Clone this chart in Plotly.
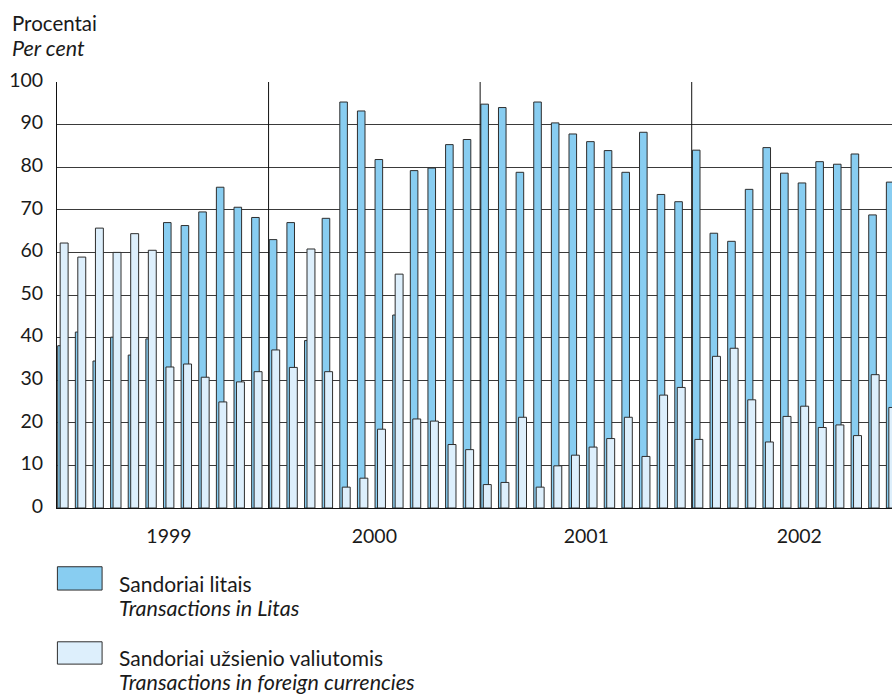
import plotly.graph_objects as go

# Monthly data, Jan 1999 - Dec 2002 (per cent)
months = list(range(48))
litas = [38.1, 41.3, 34.5, 40.1, 35.9, 39.7, 67.0, 66.3, 69.5, 75.3, 70.6, 68.2,
         63.0, 67.0, 39.3, 68.0, 95.3, 93.2, 81.8, 45.3, 79.2, 79.8, 85.3, 86.5,
         94.8, 94.0, 78.8, 95.3, 90.4, 87.8, 86.0, 83.9, 78.8, 88.2, 73.6, 71.9,
         84.0, 64.5, 62.6, 74.8, 84.6, 78.6, 76.3, 81.3, 80.7, 83.1, 68.8, 76.5]
foreign = [62.2, 58.9, 65.7, 60.0, 64.4, 60.5, 33.1, 33.8, 30.7, 24.9, 29.6, 32.0,
           37.1, 33.0, 60.8, 32.0, 4.9, 7.0, 18.5, 54.9, 20.9, 20.4, 14.9, 13.7,
           5.5, 6.0, 21.3, 4.9, 9.9, 12.4, 14.3, 16.3, 21.3, 12.1, 26.5, 28.3,
           16.1, 35.6, 37.5, 25.4, 15.5, 21.5, 23.9, 18.9, 19.5, 17.0, 31.3, 23.6]
year_pos = [6.35, 18.0, 30.02, 42.1]
year_labels = ["1999", "2000", "2001", "2002"]
year_bounds = [12, 24, 36]
y_ticks = list(range(0, 101, 10))

FONT = "Lato"
DARK = "#88CDF1"
LIGHT = "#DDEFFC"
EDGE = "#2e2e2e"

fig = go.Figure()
fig.add_trace(go.Bar(x=months, y=litas, offset=0.04, width=0.43,
                     marker=dict(color=DARK, line=dict(color=EDGE, width=1)),
                     name="Sandoriai litais", showlegend=False))
fig.add_trace(go.Bar(x=months, y=foreign, offset=0.18, width=0.45,
                     marker=dict(color=LIGHT, line=dict(color=EDGE, width=1)),
                     name="Sandoriai užsienio valiutomis", showlegend=False))

shapes = []
for b in year_bounds:
    shapes.append(dict(type="line", xref="x", yref="y", x0=b, x1=b, y0=0, y1=100,
                       line=dict(color="#111", width=1)))

# pixel -> paper coords
def py(px):
    return (508 - px) / 425.7

def pxx(px):
    return (px - 56.6) / 835.4

shapes.append(dict(type="rect", xref="paper", yref="paper", x0=pxx(57), x1=pxx(101.7),
                   y0=py(590), y1=py(566.7), fillcolor=DARK, line=dict(color=EDGE, width=1)))
shapes.append(dict(type="rect", xref="paper", yref="paper", x0=pxx(57), x1=pxx(101.7),
                   y0=py(664), y1=py(641.7), fillcolor=LIGHT, line=dict(color=EDGE, width=1)))

ann = []
def txt(s, x, y, italic=False, size=20.5):
    ann.append(dict(text=("<i>%s</i>" % s) if italic else s, x=pxx(x), y=py(y),
                    xref="paper", yref="paper", xanchor="left", yanchor="middle",
                    showarrow=False, font=dict(family=FONT, size=size, color="#1a1a1a")))

txt("Procentai", 10, 23, size=20.5)
txt("Per cent", 10, 48, italic=True, size=21.5)
txt("Sandoriai litais", 117, 583, size=21)
txt("Transactions in Litas", 117, 608, italic=True, size=21.5)
txt("Sandoriai užsienio valiutomis", 117, 657, size=21)
txt("Transactions in foreign currencies", 117, 682, italic=True, size=21.5)

fig.update_layout(
    width=892, height=695,
    margin=dict(l=56.6, r=0, t=82.3, b=187, autoexpand=False),
    barmode="overlay",
    plot_bgcolor="white", paper_bgcolor="white",
    font=dict(family=FONT, size=19.5, color="#1a1a1a"),
    shapes=shapes, annotations=ann,
    xaxis=dict(range=[0, 47.36], tickvals=year_pos, ticktext=year_labels,
               showgrid=False, zeroline=False, showline=True, linecolor="#111",
               linewidth=1, ticks="", ticklabelstandoff=11),
    yaxis=dict(range=[0, 100], tickvals=y_ticks, showgrid=True, gridcolor="#3a3a3a",
               gridwidth=1.3, zeroline=False, showline=True, linecolor="#111",
               linewidth=1, ticks="", ticklabelstandoff=9, ticklabelshift=-2),
)

fig.write_html("out.html", config={"displayModeBar": False},
               post_script="document.body.style.margin='0';document.body.style.overflow='hidden';")
